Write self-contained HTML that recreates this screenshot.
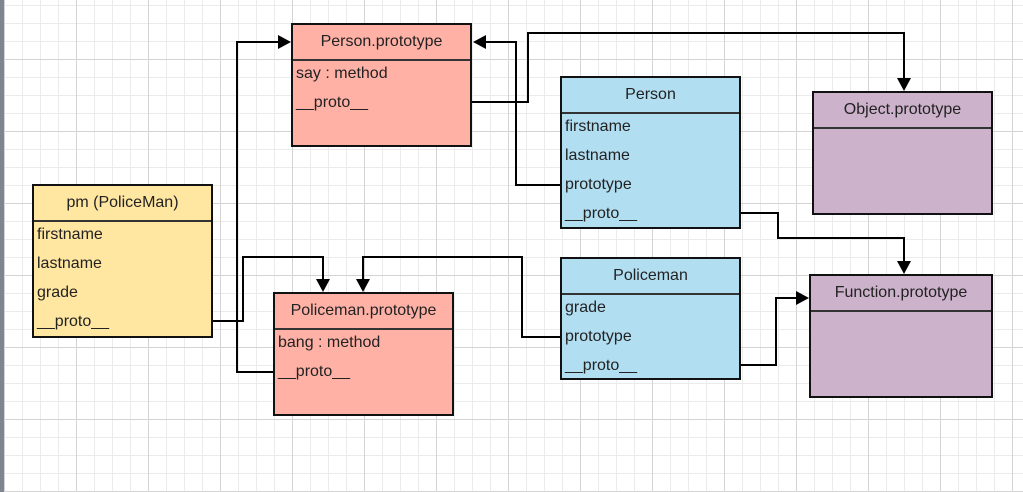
<!DOCTYPE html>
<html><head><style>
body{margin:0;width:1023px;height:492px;overflow:hidden;font-family:"Liberation Sans",sans-serif;}
.bg{position:absolute;left:0;top:0;width:1023px;height:492px;background-color:#fff;
background-image:linear-gradient(#d4d4d4 1px,transparent 1px),linear-gradient(90deg,#d4d4d4 1px,transparent 1px),linear-gradient(#ebebeb 1px,transparent 1px),linear-gradient(90deg,#ebebeb 1px,transparent 1px);
background-size:72px 72px,72px 72px,18px 18px,18px 18px;
background-position:0 59px,4px 0,0 5px,4px 0;}
.bar{position:absolute;left:0;top:0;width:4px;height:492px;background:#7f8590;}
.box{position:absolute;border:2px solid #111;box-sizing:border-box;font-size:16px;color:#222;}
.h{height:36px;border-bottom:2px solid #333;box-sizing:border-box;text-align:center;line-height:33px;}
.r{height:29px;line-height:29px;padding-left:3px;}
.f{margin-top:-2px}
svg{position:absolute;left:0;top:0;}
</style></head><body>
<div class="bg"></div><div class="bar"></div>
<div class="box" style="left:291px;top:23px;width:181px;height:124px;background:#ffb1a6"><div class="h">Person.prototype</div><div class="r f">say : method</div><div class="r">__proto__</div></div>
<div class="box" style="left:32px;top:184px;width:181px;height:154px;background:#ffe6a1"><div class="h">pm (PoliceMan)</div><div class="r f">firstname</div><div class="r">lastname</div><div class="r">grade</div><div class="r">__proto__</div></div>
<div class="box" style="left:273px;top:292px;width:181px;height:124px;background:#ffb1a6"><div class="h">Policeman.prototype</div><div class="r f">bang : method</div><div class="r">__proto__</div></div>
<div class="box" style="left:560px;top:76px;width:181px;height:153px;background:#b2def2"><div class="h">Person</div><div class="r f">firstname</div><div class="r">lastname</div><div class="r">prototype</div><div class="r">__proto__</div></div>
<div class="box" style="left:560px;top:257px;width:181px;height:123px;background:#b2def2"><div class="h">Policeman</div><div class="r f">grade</div><div class="r">prototype</div><div class="r">__proto__</div></div>
<div class="box" style="left:812px;top:91px;width:181px;height:124px;background:#cdb2cb"><div class="h">Object.prototype</div></div>
<div class="box" style="left:809px;top:274px;width:184px;height:124px;background:#cdb2cb"><div class="h">Function.prototype</div></div>
<svg width="1023" height="492"><g fill="none" stroke="#000" stroke-width="2">
<polyline points="213,321 243,321 243,257 323,257 323,280"/>
<polyline points="273,372 237,372 237,42 279,42"/>
<polyline points="560,337 522,337 522,257 363,257 363,280"/>
<polyline points="560,185 516,185 516,42 484,42"/>
<polyline points="472,102 528,102 528,33 904,33 904,79"/>
<polyline points="741,213 778,213 778,238 904,238 904,262"/>
<polyline points="741,365 776,365 776,298 797,298"/>
</g><g fill="#000">
<polygon points="316,279 330,279 323,292"/>
<polygon points="356,279 370,279 363,292"/>
<polygon points="278,35 278,49 291,42"/>
<polygon points="486,35 486,49 473,42"/>
<polygon points="897,78 911,78 904,91"/>
<polygon points="897,261 911,261 904,274"/>
<polygon points="796,291 796,305 809,298"/>
</g></svg>
</body></html>
